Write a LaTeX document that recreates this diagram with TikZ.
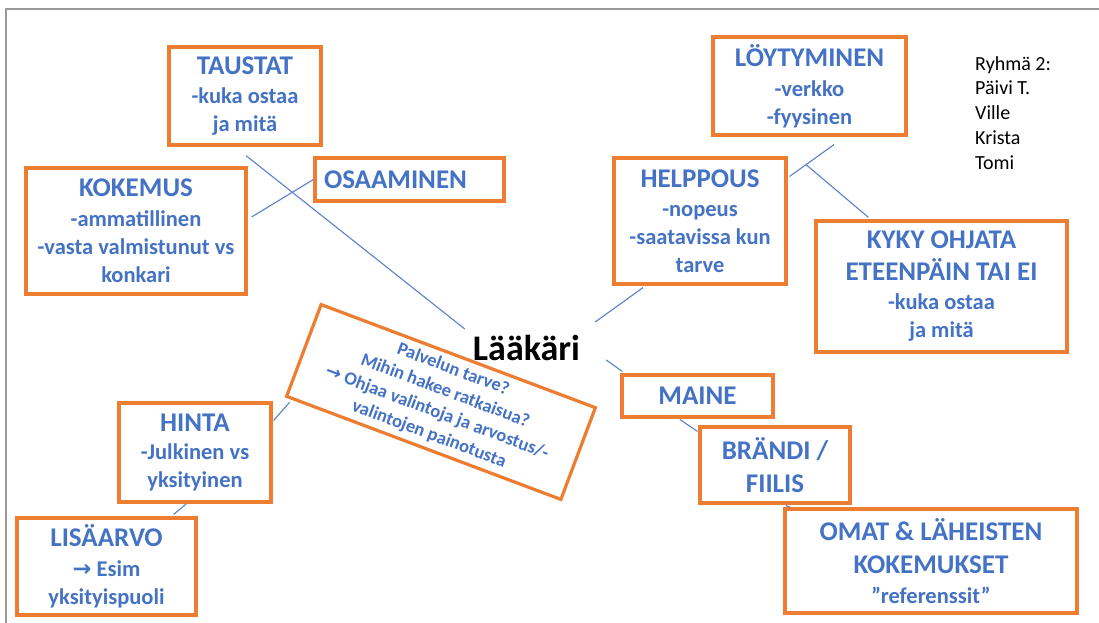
\documentclass[tikz,border=0pt]{standalone}
\usepackage{fontspec}
\setmainfont{Carlito}
\newfontfamily\dejavu{DejaVu Sans}
\usetikzlibrary{calc}
\definecolor{boxorange}{HTML}{ED7D31}
\definecolor{txtblue}{HTML}{4472C4}
\definecolor{linkblue}{HTML}{5B80CC}
\definecolor{framegray}{HTML}{9A9A9A}
\newcommand\hd{\fontsize{27}{28}\selectfont}
\newcommand\bd{\fontsize{22.5}{28}\selectfont}
\newcommand\arr{{\dejavu\bfseries →}}
\begin{document}
\begin{tikzpicture}[x=1pt,y=-1pt,
  box/.style={draw=boxorange, line width=3.2pt, fill=white, align=center, text=txtblue, inner sep=0pt, font=\bfseries\bd},
  link/.style={draw=linkblue, line width=1.1pt},
  ]
\useasboundingbox (0,0) rectangle (1099,623);
\fill[white] (0,0) rectangle (1099,623);
\draw[framegray, line width=2pt] (6,623) -- (6,9) -- (1099,9);

\node[box, minimum width=152pt, minimum height=98pt] (taustat) at (245,96)
  {\hd TAUSTAT\\[1pt]-kuka ostaa\\ja mitä};
\node[box, minimum width=220pt, minimum height=126pt] (kok) at (136,231)
  {\hd KOKEMUS\\[2pt]-ammatillinen\\-vasta valmistunut vs\\konkari};
\node[box, minimum width=189pt, minimum height=43pt, align=left, text width=171pt, inner xsep=9pt] (osaa) at (409.5,179.5)
  {\hd OSAAMINEN};
\node[box, minimum width=193pt, minimum height=98pt] (loyt) at (809.5,86)
  {\hd LÖYTYMINEN\\[2pt]-verkko\\-fyysinen};
\node[box, minimum width=172pt, minimum height=126pt] (help) at (700,221)
  {\hd HELPPOUS\\[1pt]-nopeus\\-saatavissa kun\\tarve};
\node[box, minimum width=251pt, minimum height=131pt] (kyky) at (941.5,286.5)
  {\hd KYKY OHJATA\\[4pt]\hd ETEENPÄIN TAI EI\\[1pt]-kuka ostaa\\ja mitä};
\node[box, minimum width=151pt, minimum height=42pt] (maine) at (697.5,396)
  {\hd MAINE};
\node[box, minimum width=150pt, minimum height=76pt] (brandi) at (775,465)
  {\hd BRÄNDI /\\[5pt]\hd FIILIS};
\node[box, minimum width=292pt, minimum height=104pt] (omat) at (931,561)
  {\hd OMAT \& LÄHEISTEN\\[5pt]\hd KOKEMUKSET\\[2pt]”referenssit”};
\node[box, minimum width=152pt, minimum height=99pt] (hinta) at (195,452.5)
  {\hd HINTA\\[0pt]-Julkinen vs\\yksityinen};
\node[box, minimum width=179pt, minimum height=97pt] (lisa) at (106.5,566.5)
  {\hd LISÄARVO\\[2pt]\arr\ Esim\\yksityispuoli};
\node[box, rotate=-20.6, minimum width=293pt, minimum height=98pt, font=\bfseries\fontsize{18.5}{23}\selectfont] (q) at (441,402)
  {Palvelun tarve?\\Mihin hakee ratkaisua?\\{\dejavu\bfseries →} Ohjaa valintoja ja arvostus/-\\valintojen painotusta};

\node[anchor=base, inner sep=0pt, font=\bfseries\fontsize{36}{40}\selectfont] (laak) at (526.5,360) {Lääkäri};

\node[anchor=north west, align=left, inner sep=0pt, font=\fontsize{20}{24.8}\selectfont] (group) at (975,56)
  {Ryhmä 2:\\Päivi T.\\Ville\\Krista\\Tomi};

\draw[link] ($(taustat.south)+(1,9)$) -- ($(laak.base west)+(-8,-31)$);
\draw[link] ($(kok.east)+(4,-14)$) -- (osaa.west);
\draw[link] ($(loyt.south)+(24.5,8)$) coordinate (l3a) -- ($(help.north east)+(2,20)$) coordinate (l3b);
\draw[link] ($(l3a)!0.63!(l3b)$) -- ($(kyky.north west)+(54,-2)$);
\draw[link] ($(help.south)+(-57,2)$) -- ($(laak.base east)+(15,-38)$);
\draw[link] ($(laak.base east)+(26,0)$) -- ($(maine.north west)+(2,-2)$);
\draw[link] ($(maine.south)+(-17.5,1)$) -- ($(brandi.north west)+(-1,6)$);
\draw[link] ($(brandi.south)+(11,1)$) -- ($(omat.north west)+(7,0)$);
\draw[link] ($(q.south west)+(5,5)$) -- ($(hinta.north east)+(1,19)$);
\draw[link] ($(hinta.south)+(-9,0.5)$) -- ($(lisa.north east)+(-24,-2)$);
\end{tikzpicture}
\end{document}
